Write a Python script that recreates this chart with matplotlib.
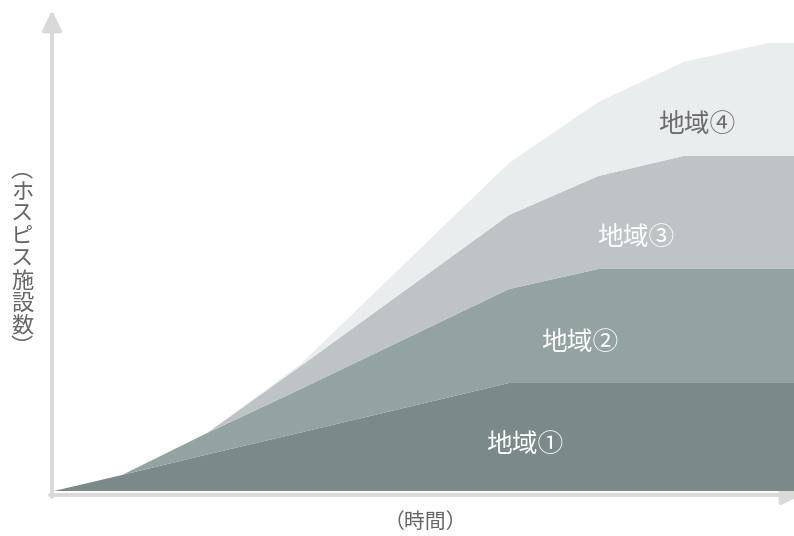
import matplotlib
matplotlib.use('Agg')
import matplotlib.pyplot as plt

plt.rcParams['font.family'] = ['Noto Sans CJK JP', 'DejaVu Sans']

# time points (arbitrary units) and stacked values per region
time = [0, 0.8, 1.8, 2.9, 5.35, 6.4, 7.4, 8.4, 8.7]
region1 = [0, 16, 36.5, 58.5, 108, 108, 108, 108, 108]
region2 = [0, 0, 21.5, 43.5, 94, 114, 114, 114, 114]
region3 = [0, 0, 0, 23, 74, 93, 113, 113, 113]
region4 = [0, 0, 0, 2, 52, 74, 94, 113, 113]
labels = ['地域①', '地域②', '地域③', '地域④']
colors = ['#7b8989', '#93a3a2', '#bec3c6', '#e9edee']
label_pos = [(5.54, 46), (6.18, 148), (6.84, 253), (7.56, 366)]
label_colors = ['white', 'white', 'white', '#6b6b6b']

W, H = 794, 536
fig = plt.figure(figsize=(W / 100, H / 100), dpi=100)
ax = fig.add_axes([54 / W, 45 / H, 740 / W, 479 / H])
ax.set_xlim(0, 8.7)
ax.set_ylim(0, 479)
ax.axis('off')

ax.stackplot(time, region1, region2, region3, region4, colors=colors,
             linewidth=0, zorder=2)

for lab, (x, y), c in zip(labels, label_pos, label_colors):
    ax.text(x, y, lab, color=c, fontsize=18.5, ha='center', va='center',
            zorder=3)

# axis arrows in figure pixels
arrow = dict(arrowstyle='-|>,head_length=0.61,head_width=0.29',
             color='#d9d9d9', lw=2.8, mutation_scale=20, shrinkA=0, shrinkB=0)
ax.annotate('', xy=(802, 41), xytext=(50, 41), xycoords='figure pixels',
            textcoords='figure pixels', arrowprops=arrow, zorder=1)
ax.annotate('', xy=(52, 526), xytext=(52, 39), xycoords='figure pixels',
            textcoords='figure pixels', arrowprops=arrow, zorder=1)

# vertical y label, one character per line
ylab = '︵ホスピス施設数︶'
y0, step = 170, 22.2
for i, ch in enumerate(ylab):
    fig.text(22 / W, 1 - (y0 + i * step) / H, ch, color='#666666',
             fontsize=16, ha='center', va='center')

fig.text(425 / W, 1 - 522 / H, '（時間）', color='#666666', fontsize=15,
         ha='center', va='center')

fig.savefig('out.png', dpi=100)
